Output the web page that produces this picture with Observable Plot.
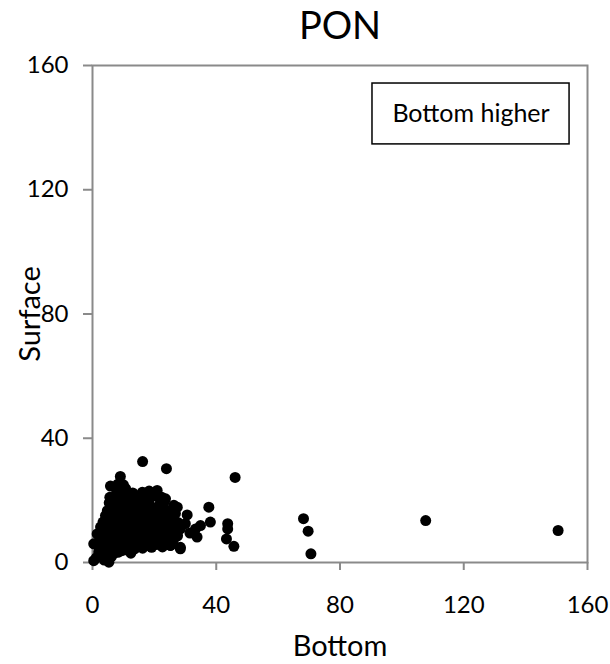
<!DOCTYPE html>
<html>
<head>
<meta charset="utf-8">
<script src="https://cdn.jsdelivr.net/npm/d3@7"></script>
<script src="https://cdn.jsdelivr.net/npm/@observablehq/plot@0.6"></script>
<style>
  html, body { margin: 0; padding: 0; background: #fff; }
  #chart { width: 610px; height: 664px; }
</style>
</head>
<body>
<div id="chart"></div>
<script>
// PON: paired surface vs bottom measurements
const bottom = [
  0.4, 1.2, 2.5, 3.8, 5.3, 6.1, 4.4,
  2.0, 3.1, 5.0, 6.8, 8.2, 9.5, 10.8, 12.4, 13.6, 7.4,
  0.4, 1.9, 3.6, 5.2, 6.3, 8.0, 9.9, 11.3, 13.0, 14.8, 16.2, 17.7, 19.1, 20.8, 22.6, 25.2, 28.4, 24.0,
  2.3, 3.9, 5.5, 7.1, 8.6, 10.2, 11.8, 13.3, 15.0, 16.6, 18.2, 19.8, 21.4, 23.0, 26.2,
  1.5, 3.2, 4.8, 6.4, 7.9, 9.3, 10.9, 12.5, 14.1, 15.7, 17.3, 18.9, 20.5, 22.1, 23.8, 25.4, 27.5,
  2.6, 4.1, 5.7, 7.2, 8.8, 10.4, 12.0, 13.6, 15.2, 16.8, 18.4, 20.0, 21.6, 23.2, 24.8, 26.6, 28.2,
  3.4, 5.0, 6.5, 8.1, 9.7, 11.3, 12.9, 14.5, 16.1, 17.7, 19.3, 20.9, 22.5, 24.1, 25.8, 27.6,
  4.2, 5.8, 7.4, 9.0, 10.6, 12.2, 13.8, 15.4, 17.0, 18.6, 20.2, 21.8, 23.4, 25.0, 26.8, 30.6,
  4.8, 6.6, 8.2, 9.8, 11.4, 13.0, 14.6, 16.2, 17.8, 19.8, 21.2, 22.8, 24.6, 27.4, 26.3,
  5.4, 7.0, 8.6, 10.2, 11.8, 13.4, 15.0, 16.6, 18.2, 21.8, 23.2,
  5.6, 7.5, 9.2, 10.8, 12.6, 14.4, 16.0, 17.6, 20.6, 22.4, 23.6,
  7.8, 9.6, 10.7, 13.0, 16.1, 18.3, 20.9, 6.4,
  5.8, 8.2, 9.0, 10.0, 16.2, 23.9,
  28.4, 30.0, 31.5, 33.3, 34.9, 33.8, 37.6, 38.1, 28.4, 25.2,
  43.7, 43.7, 43.3, 45.7, 46.1,
  68.2, 69.7, 70.6, 107.7, 150.5
];
const surface = [
  0.6, 1.5, 2.0, 0.8, 0.1, 1.9, 2.6,
  3.4, 4.0, 3.6, 2.9, 3.3, 3.8, 4.1, 3.0, 4.4, 4.6,
  6.0, 5.2, 5.6, 5.0, 6.1, 5.4, 5.9, 5.2, 6.0, 5.1, 4.6, 5.5, 4.9, 5.8, 5.0, 5.5, 4.9, 6.4,
  7.2, 7.8, 7.0, 7.6, 6.8, 7.5, 7.1, 7.9, 7.0, 7.7, 6.9, 7.6, 7.2, 7.9, 7.4,
  9.2, 9.6, 8.6, 9.4, 8.8, 9.7, 9.0, 9.8, 8.7, 9.5, 8.9, 9.8, 9.1, 9.6, 8.8, 9.4, 8.6,
  11.4, 10.5, 11.2, 10.8, 11.7, 10.4, 11.5, 10.9, 11.8, 10.6, 11.3, 10.7, 11.6, 10.9, 11.8, 10.5, 11.2,
  13.0, 12.6, 13.5, 12.8, 13.7, 12.4, 13.3, 12.7, 13.8, 12.5, 13.4, 12.8, 13.9, 12.6, 13.3, 12.9,
  15.1, 14.6, 15.5, 14.3, 15.2, 14.8, 15.9, 14.4, 15.4, 14.9, 15.7, 14.5, 15.3, 14.7, 15.8, 15.3,
  16.7, 17.3, 16.4, 17.5, 16.9, 17.8, 16.6, 17.4, 16.8, 17.6, 16.5, 17.2, 16.7, 17.8, 18.4,
  19.2, 18.6, 19.5, 18.9, 19.8, 18.7, 19.4, 18.5, 19.6, 18.9, 19.5,
  21.0, 20.6, 21.5, 20.8, 21.6, 20.4, 21.3, 20.7, 21.4, 21.0, 20.5,
  22.6, 23.4, 23.8, 22.4, 22.6, 23.0, 23.2, 20.5,
  24.6, 25.2, 27.7, 25.0, 32.5, 30.2,
  10.8, 12.5, 9.5, 10.8, 11.9, 8.2, 17.8, 13.0, 4.4, 5.5,
  12.5, 10.8, 7.6, 5.2, 27.4,
  14.1, 10.1, 2.8, 13.5, 10.3
];
const xTicks = [0, 40, 80, 120, 160];
const yTicks = [0, 40, 80, 120, 160];
const chartTitle = "PON";
const xTitle = "Bottom";
const yTitle = "Surface";
const noteBox = [{x1: 90.5, x2: 154.2, y1: 134.6, y2: 154.2, label: "Bottom higher"}];

const points = bottom.map((b, i) => ({bottom: b, surface: surface[i]}));

const axisGray = "#8a8a8a";
const font = "Lato, 'Open Sans', sans-serif";

const chart = Plot.plot({
  width: 610,
  height: 664,
  marginLeft: 92,
  marginRight: 23,
  marginTop: 65,
  marginBottom: 102,
  style: {fontFamily: font, fontSize: "24px", background: "#fff", color: "#000"},
  x: {domain: [0, 160], ticks: xTicks},
  y: {domain: [0, 160], ticks: yTicks},
  marks: [
    Plot.frame({stroke: axisGray, strokeWidth: 2}),
    Plot.axisX({ticks: xTicks, tickSize: 8, tickPadding: 25, stroke: axisGray, strokeWidth: 2, fill: "#000", label: null, fontSize: 24}),
    Plot.axisY({ticks: yTicks, tickSize: 9, tickPadding: 15, stroke: axisGray, strokeWidth: 2, fill: "#000", label: null, fontSize: 24}),
    Plot.rect(noteBox, {x1: "x1", x2: "x2", y1: "y1", y2: "y2", fill: "#fff", stroke: "#000", strokeWidth: 1.5}),
    Plot.text(noteBox, {x: d => (d.x1 + d.x2) / 2, y: d => (d.y1 + d.y2) / 2, text: "label", fontSize: 25, fill: "#000"}),
    Plot.dot(points, {x: "bottom", y: "surface", r: 5.5, fill: "#000", stroke: null}),
    Plot.text([chartTitle], {text: d => d, frameAnchor: "top", textAnchor: "middle", lineAnchor: "middle", dy: -39, fontSize: 38, fill: "#000"}),
    Plot.text([xTitle], {text: d => d, frameAnchor: "bottom", textAnchor: "middle", lineAnchor: "middle", dy: 84, fontSize: 29, fill: "#000"}),
    Plot.text([yTitle], {text: d => d, frameAnchor: "left", textAnchor: "middle", lineAnchor: "middle", dx: -62, rotate: -90, fontSize: 29, fill: "#000"})
  ]
});

document.getElementById("chart").appendChild(chart);
</script>
</body>
</html>
